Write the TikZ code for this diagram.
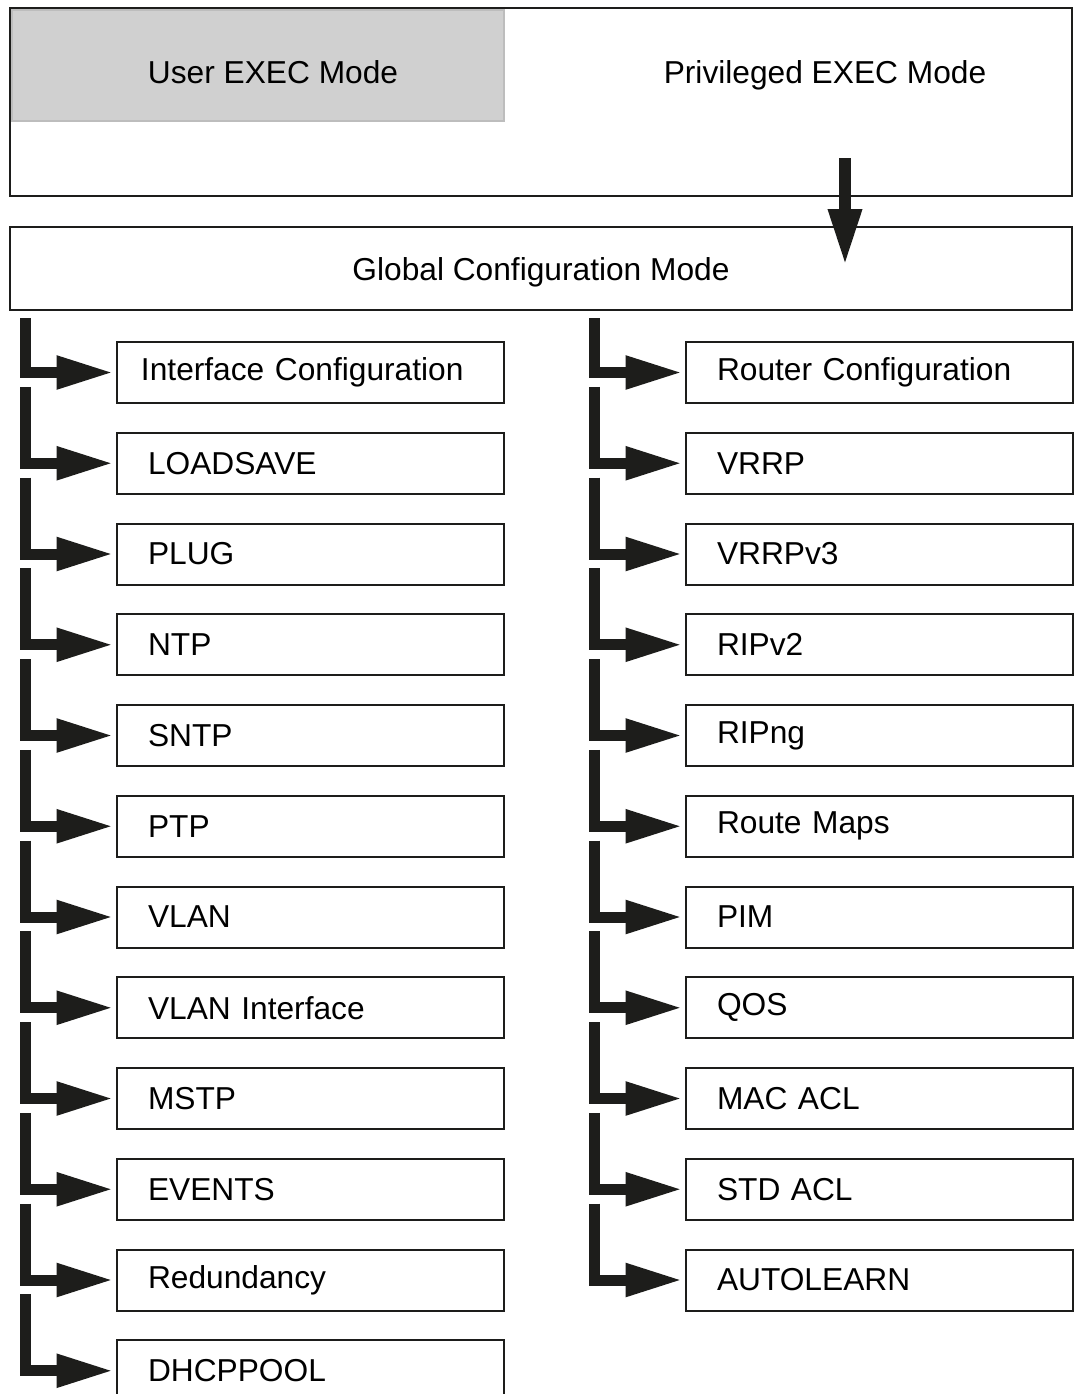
\documentclass[tikz,border=0pt]{standalone}
\usepackage{fontspec}
\setmainfont{Liberation Sans}
\usetikzlibrary{arrows.meta,positioning,calc}

\definecolor{ink}{HTML}{1D1D1B}
\definecolor{usergray}{HTML}{D0D0D0}
\definecolor{userline}{HTML}{BDBDBD}

\tikzset{
  modetext/.style={font=\fontsize{15.85}{19}\selectfont,inner sep=0pt,anchor=base},
  subbox/.style={draw=ink,line width=1pt,anchor=north west,
    minimum width=193.5pt,minimum height=30.5pt,text width=162.5pt,
    inner xsep=15.5pt,inner ysep=0pt,align=left,
    font=\fontsize{15.85}{19}\selectfont},
  branch/.style={draw=ink,line width=5.5pt,line join=miter,
    -{Triangle[length=28.5pt,width=15.5pt]},shorten >=1.2pt},
  bigarrow/.style={draw=ink,line width=6pt,
    -{Triangle[length=28.5pt,width=15.5pt]}}
}

\begin{document}
\begin{tikzpicture}[x=0.5pt,y=-0.5pt]
  \useasboundingbox (0,0) rectangle (1074,1394);
  \clip (0,0) rectangle (1074,1394);

  % exec modes
  \filldraw[fill=usergray,draw=userline,line width=1pt] (12,10) rectangle (504,121);
  \draw[ink,line width=1.2pt] (10,8) rectangle (1072,196);
  \node[modetext] (user) at (273,83) {User EXEC Mode};
  \node[modetext] (priv) at (825,83) {Privileged EXEC Mode};

  % global configuration
  \node[draw=ink,line width=1pt,minimum width=531pt,minimum height=41.5pt,
    text height=11.5pt,text depth=0pt,
    font=\fontsize{15.85}{19}\selectfont] (global) at (541,268.5) {Global Configuration Mode};
  \coordinate (pdown) at (845,158);
  \coordinate (pend) at (845,266);
  \draw[bigarrow] (pdown) -- (pend);

  % left column
  \foreach \name [count=\i] in {Interface Configuration,LOADSAVE,PLUG,NTP,SNTP,PTP,
      VLAN,VLAN Interface,MSTP,EVENTS,Redundancy,DHCPPOOL}{
    \pgfmathsetmacro{\ybox}{341+90.75*(\i-1)}
    \pgfmathsetmacro{\ytop}{\i==1 ? 318 : \ybox-45}
    \node[subbox] (l\i) at (116,\ybox) {\ifnum\i=1 \hspace*{-3.5pt}\fi\name};
    \coordinate (ltop\i) at (25.5,\ytop);
    \draw[branch] (ltop\i) |- (l\i.west);
  }

  % right column
  \foreach \name [count=\i] in {Router Configuration,VRRP,VRRPv3,RIPv2,RIPng,Route Maps,
      PIM,QOS,MAC ACL,STD ACL,AUTOLEARN}{
    \pgfmathsetmacro{\ybox}{341+90.75*(\i-1)}
    \pgfmathsetmacro{\ytop}{\i==1 ? 318 : \ybox-45}
    \node[subbox] (r\i) at (685,\ybox) {\name};
    \coordinate (rtop\i) at (594.5,\ytop);
    \draw[branch] (rtop\i) |- (r\i.west);
  }
\end{tikzpicture}
\end{document}
